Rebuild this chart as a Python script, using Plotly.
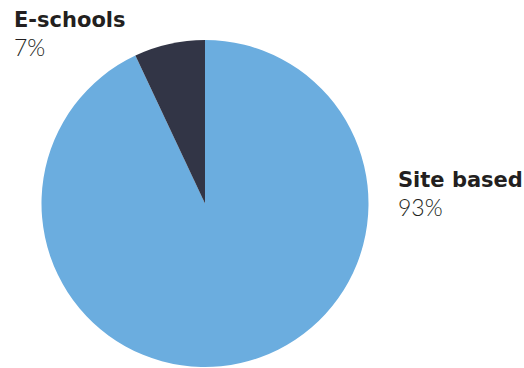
import plotly.graph_objects as go

# School type shares (percent); drawn clockwise from 12 o'clock
labels = ["Site based", "E-schools"]
values = [93, 7]
colors = ["#6BADDF", "#323546"]

W, H = 524, 368

fig = go.Figure(
    go.Pie(
        labels=labels,
        values=values,
        sort=False,
        direction="clockwise",
        rotation=0,
        marker=dict(colors=colors, line=dict(width=0)),
        textinfo="none",
        hoverinfo="label+percent",
        domain=dict(x=[41 / W, 369 / W], y=[1 / H, 328 / H]),
    )
)

# Outside labels: bold name with a light percentage underneath
label_pos = {
    "E-schools": (12, 20),
    "Site based": (396, 180),
}
annotations = []
for name, val in zip(labels, values):
    px, py = label_pos[name]
    annotations.append(dict(
        x=px / W, y=1 - py / H, xref="paper", yref="paper",
        xanchor="left", yanchor="middle", showarrow=False,
        text=f"<b>{name}</b>",
        font=dict(family="DejaVu Sans", size=21, color="#231F20"),
    ))
    annotations.append(dict(
        x=px / W, y=1 - (py + 27) / H, xref="paper", yref="paper",
        xanchor="left", yanchor="middle", showarrow=False,
        text=f"{val}%",
        font=dict(family="Lato", size=23, color="#231F20", weight=300),
    ))

fig.update_layout(
    width=W, height=H,
    margin=dict(l=0, r=0, t=0, b=0),
    paper_bgcolor="white",
    showlegend=False,
    annotations=annotations,
)

fig.write_html("out.html")
